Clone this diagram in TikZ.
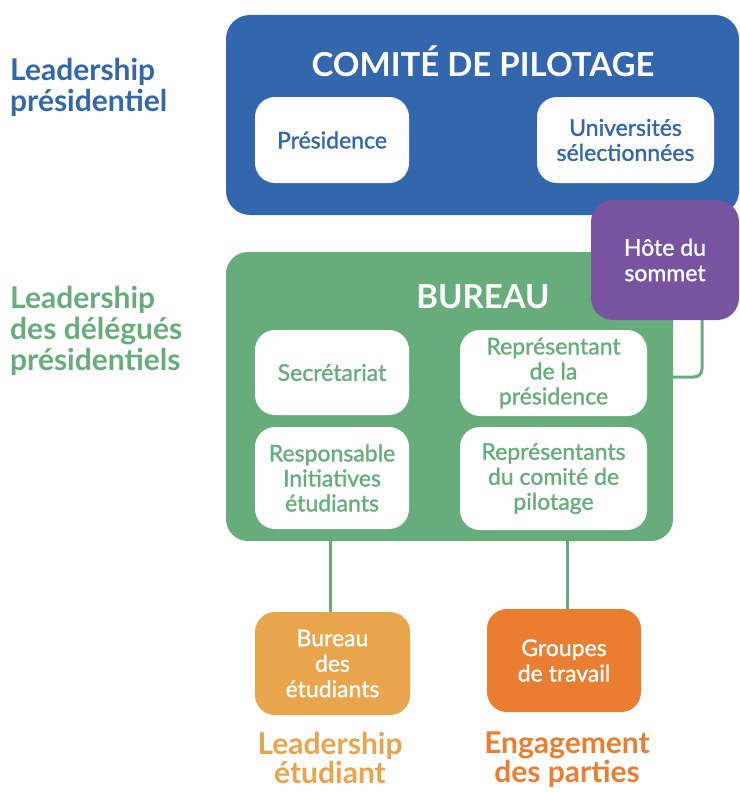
\documentclass[tikz,border=0pt]{standalone}
\usepackage{fontspec}
\setmainfont{Lato}
\newfontfamily\medfont{Lato}[FakeBold=1.2]
\definecolor{cblue}{HTML}{3267AE}
\definecolor{cgreen}{HTML}{67AD7B}
\definecolor{cpurple}{HTML}{7853A0}
\definecolor{clorange}{HTML}{E8A54B}
\definecolor{corange}{HTML}{EA7D30}
\begin{document}
\begin{tikzpicture}[x=1pt,y=-1pt,
  panel/.style={rounded corners=24pt, inner sep=0pt, draw=none},
  wbox/.style={fill=white, rounded corners=20pt, inner sep=0pt, align=center,
    font=\medfont\fontsize{23}{25}\selectfont},
  cbox/.style={rounded corners=22pt, inner sep=0pt, align=center, text=white,
    font=\medfont\fontsize{23}{25.5}\selectfont},
  ptitle/.style={text=white, inner sep=0pt, font=\bfseries\fontsize{33}{35}\selectfont},
  sidelabel/.style={inner sep=0pt, align=left, font=\bfseries\fontsize{30}{31}\selectfont},
  botlabel/.style={inner sep=0pt, align=center, font=\bfseries\fontsize{30}{29}\selectfont},
  link/.style={cgreen, line width=3pt}
]
\useasboundingbox (0,0) rectangle (739,792);

% Comite de pilotage
\node[panel, fill=cblue, minimum width=513pt, minimum height=200pt] (com) at (482.5,115) {};
\node[ptitle] (comt) at (483,61) {COMITÉ DE PILOTAGE};
\node[wbox, text=cblue, minimum width=154pt, minimum height=86pt] (pres) at (332,140) {Présidence};
\node[wbox, text=cblue, minimum width=177pt, minimum height=86pt] (univ) at (625.5,140) {Universités\\sélectionnées};

% Bureau
\node[panel, fill=cgreen, rounded corners=22pt, minimum width=447pt, minimum height=289pt] (bur) at (449.5,396.5) {};
\node[ptitle] (burt) at (483,297) {BUREAU};
\node[wbox, text=cgreen, minimum width=154pt, minimum height=85pt] (secr) at (332,372.5) {Secrétariat};
\node[wbox, text=cgreen, minimum width=187pt, minimum height=86pt] (repr) at (553.5,373) {Représentant\\de la\\présidence};
\node[wbox, text=cgreen, minimum width=154pt, minimum height=102pt] (resp) at (332,478) {Responsable\\Initiatives\\étudiants};
\node[wbox, text=cgreen, minimum width=187pt, minimum height=103pt] (reps) at (553.5,478.5) {Représentants\\du comité de\\pilotage};

% Hote du sommet
\node[cbox, fill=cpurple, minimum width=148pt, minimum height=120pt] (host) at (665,260) {Hôte du\\sommet};

% Bottom boxes
\node[cbox, fill=clorange, rounded corners=20pt, minimum width=155pt, minimum height=103pt] (bde) at (332.5,663.5) {Bureau\\des\\étudiants};
\node[cbox, fill=corange, rounded corners=20pt, minimum width=154pt, minimum height=103pt] (grp) at (564,660.5) {Groupes\\de travail};

% connectors
\draw[link] (secr.east) -- (repr.west);
\coordinate (hc) at (702,320);
\coordinate (he) at (673,377);
\draw[link, rounded corners=8pt] (hc) |- (he);
\coordinate (b1) at (330,541);
\coordinate (b2) at (567,541);
\draw[link] (b1) -- (b1 |- bde.north);
\draw[link] (b2) -- (b2 |- grp.north);

% side labels
\node[sidelabel, text=cblue, anchor=north west] (l1) at (10,58) {Leadership\\présidentiel};
\node[sidelabel, text=cgreen, anchor=north west] (l2) at (10,286) {Leadership\\des délégués\\présidentiels};
\node[botlabel, text=clorange, anchor=north] (l3) at (330,732) {Leadership\\étudiant};
\node[botlabel, text=corange, anchor=north] (l4) at (567,732) {Engagement\\des parties};
\end{tikzpicture}
\end{document}
